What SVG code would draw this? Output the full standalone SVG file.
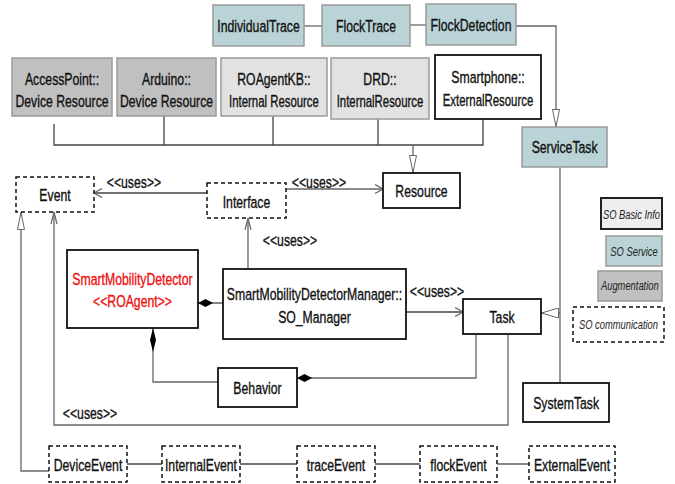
<svg xmlns="http://www.w3.org/2000/svg" width="675" height="484" viewBox="0 0 675 484">
  <style>
    .t { font-family: "Liberation Sans", Arial, sans-serif; font-size: 17px; fill: #111; stroke: #111; stroke-width: 0.35; text-anchor: middle;
         transform-box: fill-box; transform-origin: center; transform: scaleX(0.72); }
    .tight { transform: scaleX(0.67); }
    .red { fill: #ee1111; stroke: #ee1111; }
    .leg { font-family: "Liberation Sans", Arial, sans-serif; font-size: 13px; font-style: italic; fill: #222; text-anchor: middle;
           transform-box: fill-box; transform-origin: center; transform: scaleX(0.72); }
    .svc { fill: #b9d3d6; stroke: #9a9a9a; stroke-width: 1.5; }
    .dev { fill: #c0c0c0; stroke: #9a9a9a; stroke-width: 1.5; }
    .int { fill: #e2e2e2; stroke: #9a9a9a; stroke-width: 1.5; }
    .cls { fill: #fff; stroke: #111; stroke-width: 1.8; }
    .com { fill: #fff; stroke: #111; stroke-width: 1.5; stroke-dasharray: 4 3; }
    .ln { fill: none; stroke: #666; stroke-width: 1.3; }
    .dk { stroke: #444; }
  </style>
  <defs>
    <marker id="triV" markerUnits="userSpaceOnUse" viewBox="0 0 18 8" refX="18" refY="4" markerWidth="18" markerHeight="8" orient="auto">
      <path d="M0.5,0.5 L17.5,4 L0.5,7.5 Z" fill="#fff" stroke="#666" stroke-width="1"/>
    </marker>
    <marker id="triH" markerUnits="userSpaceOnUse" viewBox="0 0 18 11" refX="18" refY="5.5" markerWidth="18" markerHeight="11" orient="auto">
      <path d="M0.5,0.5 L17.5,5.5 L0.5,10.5 Z" fill="#fff" stroke="#666" stroke-width="1"/>
    </marker>
    <marker id="openV" markerUnits="userSpaceOnUse" viewBox="0 0 12 8" refX="12" refY="4" markerWidth="12" markerHeight="8" orient="auto">
      <path d="M0,1 L12,4 L0,7" fill="none" stroke="#666" stroke-width="1.2"/>
    </marker>
    <marker id="openH" markerUnits="userSpaceOnUse" viewBox="0 0 8 10" refX="8" refY="5" markerWidth="8" markerHeight="10" orient="auto">
      <path d="M0,0.5 L8,5 L0,9.5" fill="none" stroke="#666" stroke-width="1.2"/>
    </marker>
    <marker id="diaH" markerUnits="userSpaceOnUse" viewBox="0 0 15 8" refX="0" refY="4" markerWidth="15" markerHeight="8" orient="auto">
      <path d="M0,4 L7.5,0 L15,4 L7.5,8 Z" fill="#000"/>
    </marker>
    <marker id="diaV" markerUnits="userSpaceOnUse" viewBox="0 0 24 6" refX="0" refY="3" markerWidth="24" markerHeight="6" orient="auto">
      <path d="M0,3 L12,0 L24,3 L12,6 Z" fill="#000"/>
    </marker>
  </defs>

  <!-- connectors -->
  <g id="connectors">
    <path class="ln" d="M304,26 H322"/>
    <path class="ln" d="M410,25 H426"/>
    <path class="ln" d="M516,26 H556 V127" marker-end="url(#triV)"/>

    <path class="ln dk" d="M54,124 V145 H483 V120"/>
    <path class="ln dk" d="M164,116 V145"/>
    <path class="ln dk" d="M273,116 V145"/>
    <path class="ln dk" d="M378,119 V145"/>
    <path class="ln" d="M413,145 V173" marker-end="url(#triV)"/>

    <path class="ln dk" d="M207,193 H94" marker-end="url(#openH)"/>
    <path class="ln" d="M286,189 H383" marker-end="url(#openH)"/>
    <path class="ln" d="M248,269 V218" marker-end="url(#openV)"/>
    <path class="ln dk" d="M198,303 H223" marker-start="url(#diaH)"/>
    <path class="ln dk" d="M406,312 H463" marker-end="url(#openH)"/>
    <path class="ln" d="M297,378 H476 V334" marker-start="url(#diaH)"/>
    <path class="ln" d="M153,328 V382 H218" marker-start="url(#diaV)"/>
    <path class="ln" d="M508,334 V425 H54 V212" marker-end="url(#openV)"/>
    <path class="ln" d="M49,471 H21 V212" marker-end="url(#triV)"/>
    <path class="ln" d="M560,167 V383"/>
    <path class="ln" d="M560,313 H541" marker-end="url(#triH)"/>

    <path class="ln dk" d="M127,464 H162"/>
    <path class="ln dk" d="M240,464 H297"/>
    <path class="ln dk" d="M375,464 H420"/>
    <path class="ln dk" d="M497,464 H529"/>

    <text class="t" x="134" y="188">&lt;&lt;uses&gt;&gt;</text>
    <text class="t" x="319" y="188">&lt;&lt;uses&gt;&gt;</text>
    <text class="t" x="290" y="246">&lt;&lt;uses&gt;&gt;</text>
    <text class="t" x="437" y="297">&lt;&lt;uses&gt;&gt;</text>
    <text class="t" x="90" y="419">&lt;&lt;uses&gt;&gt;</text>
  </g>

  <!-- service chain -->
  <g id="individualTrace"><rect class="svc" x="213" y="5" width="91" height="41"/><text class="t" x="258.5" y="32">IndividualTrace</text></g>
  <g id="flockTrace"><rect class="svc" x="322" y="5" width="88" height="41"/><text class="t" x="366" y="32">FlockTrace</text></g>
  <g id="flockDetection"><rect class="svc" x="426" y="4" width="90" height="41"/><text class="t" x="471" y="31">FlockDetection</text></g>

  <!-- resources -->
  <g id="accessPoint"><rect class="dev" x="12" y="58" width="100" height="58"/>
    <text class="t" x="62" y="85">AccessPoint::</text><text class="t" x="62" y="107">Device Resource</text></g>
  <g id="arduino"><rect class="dev" x="117" y="58" width="99" height="58"/>
    <text class="t" x="166.5" y="85">Arduino::</text><text class="t" x="166.5" y="107">Device Resource</text></g>
  <g id="roAgentKB"><rect class="int" x="221" y="58" width="106" height="58"/>
    <text class="t" x="274" y="85">ROAgentKB::</text><text class="t tight" x="274" y="107">Internal Resource</text></g>
  <g id="drd"><rect class="int" x="331" y="58" width="98" height="61"/>
    <text class="t" x="380" y="85">DRD::</text><text class="t tight" x="380" y="107">InternalResource</text></g>
  <g id="smartphone"><rect class="cls" x="435" y="55" width="106" height="64"/>
    <text class="t" x="488" y="83">Smartphone::</text><text class="t tight" x="488" y="106">ExternalResource</text></g>

  <g id="serviceTask"><rect class="svc" x="522" y="127" width="85" height="40"/><text class="t" x="564.5" y="153">ServiceTask</text></g>

  <!-- core classes -->
  <g id="event"><rect class="com" x="16" y="177" width="78" height="35"/><text class="t" x="55" y="201">Event</text></g>
  <g id="interface"><rect class="com" x="207" y="183" width="79" height="35"/><text class="t" x="246.5" y="208">Interface</text></g>
  <g id="resource"><rect class="cls" x="383" y="173" width="77" height="35"/><text class="t" x="421.5" y="197">Resource</text></g>

  <g id="smartMobilityDetector"><rect class="cls" x="67" y="250" width="131" height="78"/>
    <text class="t red" x="132.5" y="285">SmartMobilityDetector</text><text class="t red" x="132.5" y="307">&lt;&lt;ROAgent&gt;&gt;</text></g>
  <g id="soManager"><rect class="cls" x="223" y="269" width="183" height="70"/>
    <text class="t" x="314.5" y="300">SmartMobilityDetectorManager::</text><text class="t" x="314.5" y="323">SO_Manager</text></g>
  <g id="task"><rect class="cls" x="463" y="299" width="78" height="35"/><text class="t" x="502" y="323">Task</text></g>
  <g id="behavior"><rect class="cls" x="218" y="368" width="79" height="39"/><text class="t" x="257.5" y="394">Behavior</text></g>
  <g id="systemTask"><rect class="cls" x="523" y="383" width="86" height="39"/><text class="t" x="566" y="409">SystemTask</text></g>

  <!-- events -->
  <g id="deviceEvent"><rect class="com" x="49" y="446" width="78" height="36"/><text class="t" x="88" y="471">DeviceEvent</text></g>
  <g id="internalEvent"><rect class="com" x="162" y="446" width="78" height="36"/><text class="t" x="201" y="471">InternalEvent</text></g>
  <g id="traceEvent"><rect class="com" x="297" y="446" width="78" height="36"/><text class="t" x="336" y="471">traceEvent</text></g>
  <g id="flockEvent"><rect class="com" x="420" y="446" width="77" height="36"/><text class="t" x="458.5" y="471">flockEvent</text></g>
  <g id="externalEvent"><rect class="com" x="529" y="446" width="86" height="36"/><text class="t" x="572" y="471">ExternalEvent</text></g>

  <!-- legend -->
  <g id="legend">
    <rect x="601" y="198" width="61" height="31" fill="#eeeeee" stroke="#222" stroke-width="2"/>
    <text class="leg" x="631.5" y="219">SO Basic Info</text>
    <rect class="svc" x="606" y="236" width="56" height="30"/>
    <text class="leg" x="634" y="256">SO Service</text>
    <rect class="dev" x="598" y="271" width="64" height="30" stroke="#777"/>
    <text class="leg" x="630" y="290">Augmentation</text>
    <rect class="com" x="573" y="307" width="91" height="35"/>
    <text class="leg" x="618.5" y="329">SO communication</text>
  </g>
</svg>
